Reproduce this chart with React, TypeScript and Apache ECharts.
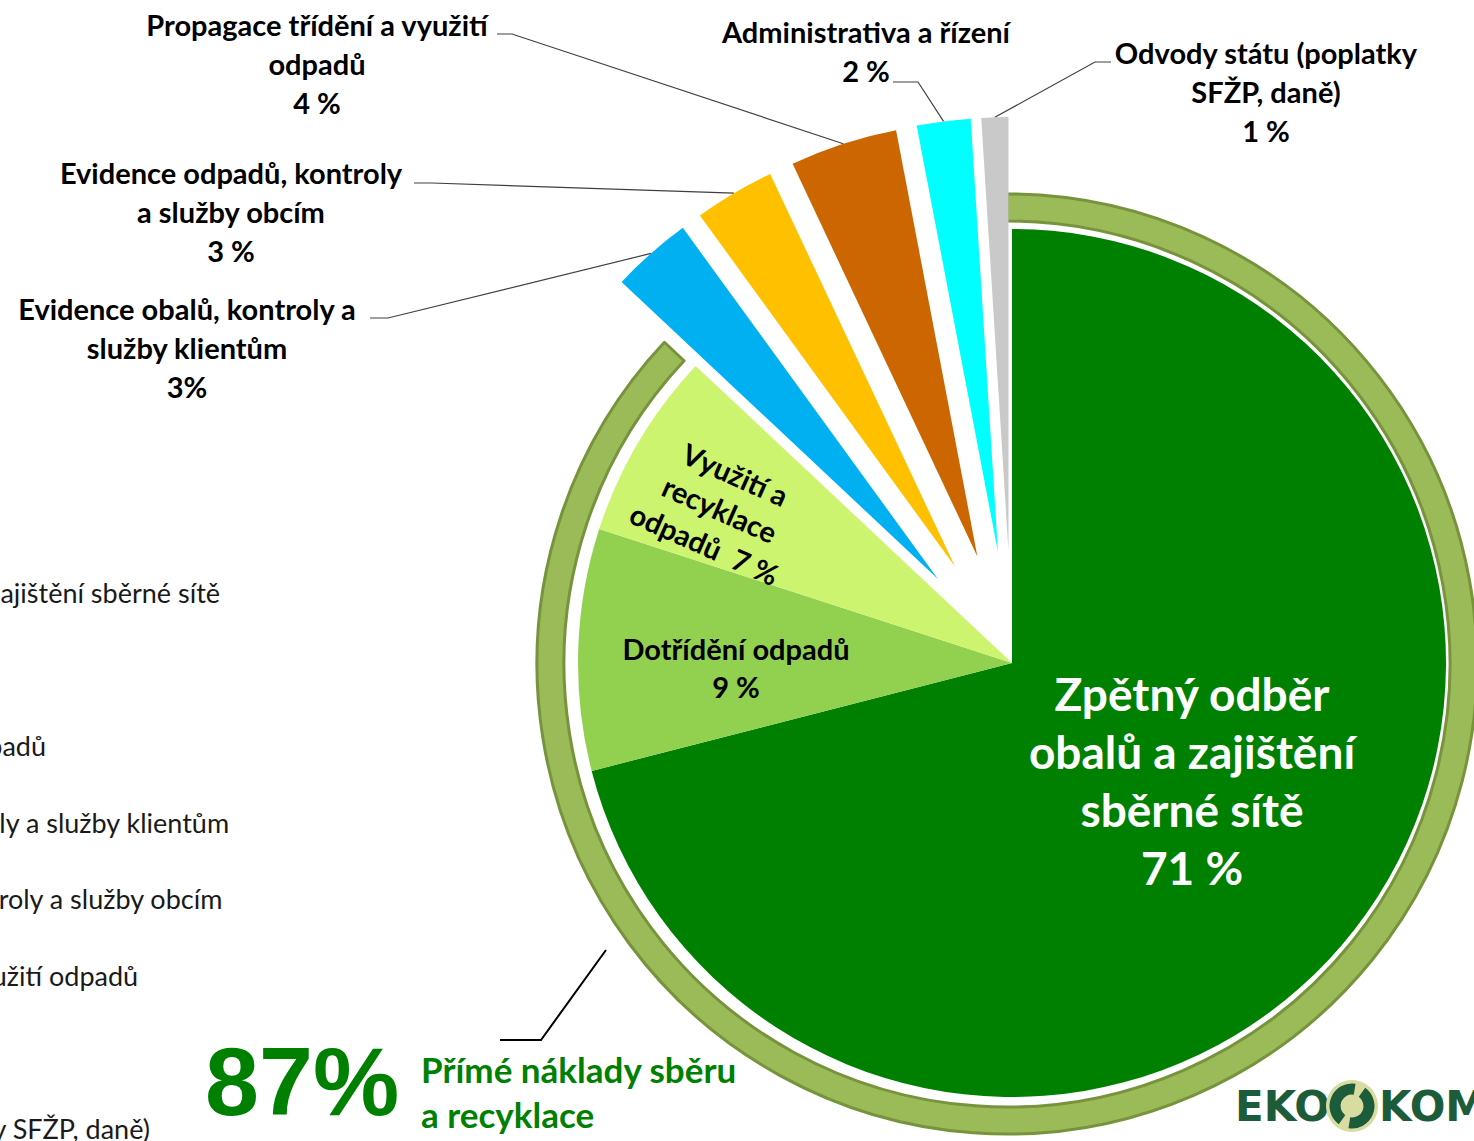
import React, { useEffect, useRef } from "react";
import * as echarts from "echarts";

// ---------- data ----------
const categories = [
  "Zpětný odběr obalů a zajištění sběrné sítě",
  "Dotřídění odpadů",
  "Využití a recyklace odpadů",
  "Evidence obalů, kontroly a služby klientům",
  "Evidence odpadů, kontroly a služby obcím",
  "Propagace třídění a využití odpadů",
  "Administrativa a řízení",
  "Odvody státu (poplatky SFŽP, daně)",
];
const values = [71, 9, 7, 3, 3, 4, 2, 1];
const sliceLabels = [
  "Zpětný odběr\nobalů a zajištění\nsběrné sítě\n71 %",
  "Dotřídění odpadů\n9 %",
  "Využití a\nrecyklace\nodpadů  7 %",
  "Evidence obalů, kontroly a\nslužby klientům\n3%",
  "Evidence odpadů, kontroly\na služby obcím\n3 %",
  "Propagace třídění a využití\nodpadů\n4 %",
  "Administrativa a řízení\n2 %",
  "Odvody státu (poplatky\nSFŽP, daně)\n1 %",
];
const explodedSlices = [false, false, false, true, true, true, true, true];
const directShare = [87, 13];
const directShareLabel = "87%";
const directShareText = "Přímé náklady sběru\na recyklace";

// ---------- styles / layout ----------
const COLORS = ["#008000", "#92D050", "#CCF46E", "#00B0F0", "#FFC000", "#CC6600", "#00FFFF", "#C9C9C9"];
const FONT = "Lato, 'Noto Sans', sans-serif";
const CX = 1012;
const CY = 663;
const R = 434;
const OFFSET = 112;
const LABEL_ANCHORS: [number, number][] = [
  [1192, 780],
  [736, 667],
  [720, 509],
  [187, 347],
  [231, 211],
  [317, 63],
  [866, 51],
  [1266, 91],
];
const LEADER_TAILS: ([number, number][] | null)[] = [
  null,
  null,
  null,
  [[388, 318], [370, 318]],
  [[432, 183], [414, 183]],
  [[512, 34], [497, 34]],
  [[918, 82], [893, 82]],
  [[1095, 62], [1111, 62]],
];

const total = values.reduce((a, b) => a + b, 0);
function midAngle(i: number) {
  let before = 0;
  for (let k = 0; k < i; k++) before += values[k];
  return ((before + values[i] / 2) / total) * Math.PI * 2;
}

const insideLabel = (i: number) =>
  i === 0
    ? { show: true, position: "inside", formatter: sliceLabels[i], color: "#fff", fontFamily: FONT, fontWeight: "bold", fontSize: 46, lineHeight: 58, align: "center" }
    : { show: true, position: "inside", formatter: sliceLabels[i], color: "#000", fontFamily: FONT, fontWeight: "bold", fontSize: 29, lineHeight: 38, align: "center", rotate: i === 2 ? -24 : 0 };

const outsideLabel = (i: number) => ({
  show: true,
  position: "outside",
  formatter: sliceLabels[i],
  color: "#000",
  fontFamily: FONT,
  fontWeight: "bold",
  fontSize: 29,
  lineHeight: 39,
  align: "center",
});

const anchorLayout = (p: any) => {
  const i = p.dataIndex;
  const [x, y] = LABEL_ANCHORS[i];
  const res: any = { x, y, align: "center", verticalAlign: "middle" };
  const tail = LEADER_TAILS[i];
  if (tail) {
    const a = midAngle(i);
    const d = R + OFFSET;
    res.labelLinePoints = [[CX + Math.sin(a) * d, CY - Math.cos(a) * d], ...tail];
  }
  return res;
};

export default function App() {
  const ref = useRef<HTMLDivElement>(null);
  useEffect(() => {
    if (!ref.current) return;
    const chart = echarts.init(ref.current, undefined, { renderer: "svg" });
    const option: any = {
      animation: false,
      backgroundColor: "#fff",
      legend: {
        data: categories,
        orient: "vertical",
        left: -305,
        top: 574,
        height: 620,
        itemGap: 49.6,
        itemWidth: 25,
        itemHeight: 14,
        icon: "rect",
        selectedMode: false,
        textStyle: { fontFamily: FONT, fontSize: 27, color: "#1a1a1a", lineHeight: 27 },
      },
      series: [
        {
          type: "pie",
          name: "ring",
          silent: true,
          center: [CX - 5, CY + 1],
          radius: [443, 470],
          startAngle: 90,
          clockwise: true,
          label: { show: false },
          labelLine: { show: false },
          emphasis: { disabled: true },
          data: [
            { name: "direct", value: directShare[0], itemStyle: { color: "#9BBB59", borderColor: "#77933C", borderWidth: 3 } },
            { name: "other", value: directShare[1], itemStyle: { color: "rgba(0,0,0,0)", borderWidth: 0 } },
          ],
        },
        {
          type: "pie",
          name: "costs",
          silent: true,
          center: [CX, CY],
          radius: R,
          startAngle: 90,
          clockwise: true,
          avoidLabelOverlap: false,
          selectedMode: "multiple",
          selectedOffset: OFFSET,
          emphasis: { disabled: true },
          select: { itemStyle: { borderWidth: 0 } },
          itemStyle: { borderWidth: 0 },
          labelLayout: anchorLayout,
          data: categories.map((name, i) => ({
            name,
            value: values[i],
            selected: explodedSlices[i],
            itemStyle: { color: COLORS[i] },
            label: explodedSlices[i] ? { show: false } : insideLabel(i),
            labelLine: { show: false },
          })),
        },
        {
          // label layer for the exploded slices (transparent copy of the same pie)
          type: "pie",
          name: "labels",
          silent: true,
          center: [CX, CY],
          radius: R,
          startAngle: 90,
          clockwise: true,
          avoidLabelOverlap: false,
          emphasis: { disabled: true },
          itemStyle: { color: "rgba(0,0,0,0)", borderWidth: 0 },
          labelLine: { show: true, length: 10, length2: 10, lineStyle: { color: "#404040", width: 1.2 } },
          labelLayout: anchorLayout,
          data: categories.map((name, i) => ({
            name,
            value: values[i],
            itemStyle: { color: "rgba(0,0,0,0)" },
            label: explodedSlices[i] ? outsideLabel(i) : { show: false },
            labelLine: { show: explodedSlices[i] },
          })),
        },
      ],
      graphic: [
        {
          type: "text",
          x: 205,
          y: 1081,
          style: { text: directShareLabel, font: "bold 97px 'Liberation Sans', Arial, sans-serif", fill: "#008000", textVerticalAlign: "middle", textAlign: "left" },
        },
        {
          type: "text",
          x: 421,
          y: 1046,
          style: { text: directShareText, font: `bold 35px ${FONT}`, lineHeight: 45, fill: "#008000", textVerticalAlign: "top", textAlign: "left" },
        },
        {
          type: "polyline",
          shape: { points: [[500, 1040], [541, 1040], [606, 950]] },
          style: { stroke: "#000", lineWidth: 2, fill: "none" },
        },
        {
          type: "group",
          children: [
            { type: "text", x: 1235, y: 1106, style: { text: "EKO", font: "bold 42px 'DejaVu Sans', sans-serif", fill: "#1D5C3A", textVerticalAlign: "middle" } },
            { type: "circle", shape: { cx: 1352, cy: 1106, r: 26 }, style: { fill: "#D8DCA0" } },
            { type: "arc", shape: { cx: 1352, cy: 1106, r: 17, startAngle: Math.PI * 0.7, endAngle: Math.PI * 1.55 }, style: { stroke: "#1D5C3A", lineWidth: 11, fill: "none" } },
            { type: "arc", shape: { cx: 1352, cy: 1106, r: 17, startAngle: -Math.PI * 0.3, endAngle: Math.PI * 0.55 }, style: { stroke: "#1D5C3A", lineWidth: 11, fill: "none" } },
            { type: "text", x: 1379, y: 1106, style: { text: "KOM", font: "bold 42px 'DejaVu Sans', sans-serif", fill: "#1D5C3A", textVerticalAlign: "middle" } },
          ],
        },
      ],
    };
    chart.setOption(option);
    return () => chart.dispose();
  }, []);
  return <div ref={ref} style={{ position: "absolute", left: 0, top: 0, width: 1474, height: 1141, background: "#fff" }} />;
}
